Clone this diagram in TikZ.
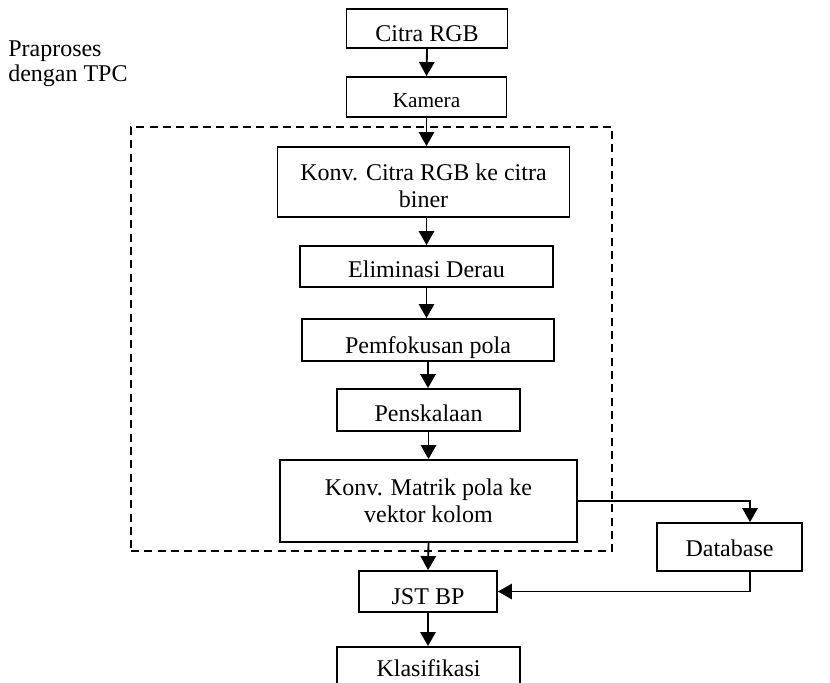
\documentclass[tikz,border=0pt]{standalone}
\usepackage{fontspec}
\setmainfont{Liberation Serif}
\usetikzlibrary{arrows.meta}
\begin{document}
\begin{tikzpicture}[x=0.75pt,y=-0.75pt,
  box/.style={draw,line width=1.4pt,rectangle,inner sep=0pt,align=center,
    font=\fontsize{18}{20.5}\selectfont},
  tb/.style={text height=#1,text depth=0pt},
  arr/.style={line width=1.4pt,-{Triangle[length=10.5pt,width=11.5pt]}},
  region/.style={draw,line width=1.2pt,dash pattern=on 6pt off 4pt}]
\useasboundingbox (0,0) rectangle (830,682);
\clip (0,0) rectangle (830,682);
\node[region,minimum width=361pt,minimum height=318pt] (reg) at (371.5,339) {};
\node[anchor=base west,align=left,inner sep=0pt,font=\fontsize{18}{18.75}\selectfont] (lbl) at (8,81) {Praproses\\dengan TPC};
\node[box,tb=20pt,minimum width=120.75pt,minimum height=29.25pt] (cit) at (427,28.5) {Citra RGB};
\node[box,tb=15pt,minimum width=120pt,minimum height=30pt,font=\fontsize{16}{18}\selectfont] (kam) at (426.5,97) {Kamera};
\node[box,minimum width=219pt,minimum height=52.5pt] (konv1) at (423.5,182) {\rule{0pt}{18pt}Konv. Citra RGB ke citra\\biner};
\node[box,tb=17pt,minimum width=189.75pt,minimum height=30.75pt] (elim) at (426.5,266.5) {Eliminasi Derau};
\node[box,tb=19.5pt,minimum width=189pt,minimum height=31.5pt] (pemf) at (428,340) {Pemfokusan pola};
\node[box,tb=16.5pt,minimum width=137.25pt,minimum height=31.5pt] (pens) at (428.5,410) {Penskalaan};
\node[box,minimum width=222.75pt,minimum height=61.5pt] (konv2) at (428.5,501) {Konv. Matrik pola ke\\vektor kolom};
\node[box,tb=13.5pt,minimum width=108.75pt,minimum height=36pt] (db) at (729.5,547) {Database};
\node[box,tb=19pt,minimum width=103.5pt,minimum height=30.75pt] (jst) at (428,591.5) {JST BP};
\node[box,tb=12pt,minimum width=137.25pt,minimum height=31.5pt] (klas) at (428.5,668) {Klasifikasi};
\draw[arr] (cit.south) -- (kam.north);
\draw[arr] (kam.south) -- (kam.south |- konv1.north);
\draw[arr] (elim.north |- konv1.south) -- (elim.north);
\draw[arr] (elim.south) -- (elim.south |- pemf.north);
\draw[arr] (pemf.south) -- (pemf.south |- pens.north);
\draw[arr] (pens.south) -- (pens.south |- konv2.north);
\draw[arr] (konv2.south) -- (jst.north);
\draw[arr] (jst.south) -- (jst.south |- klas.north);
\draw[arr] (konv2.east) -| ([xshift=15.4pt]db.north);
\draw[arr] ([xshift=15.4pt]db.south) |- (jst.east);
\end{tikzpicture}
\end{document}
